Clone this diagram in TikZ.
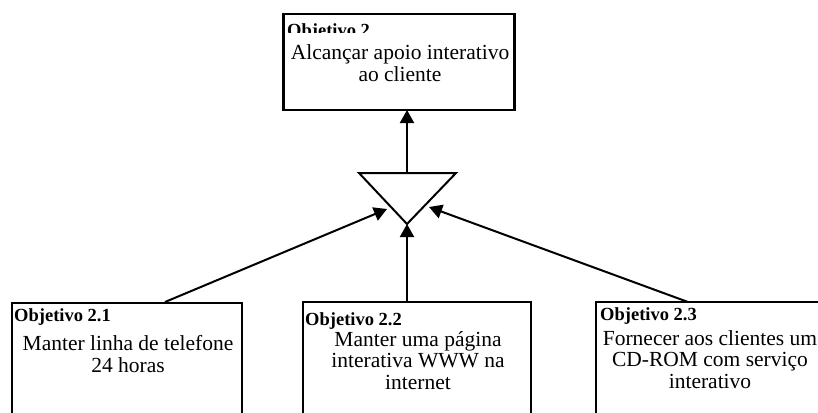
\documentclass[tikz,border=0pt]{standalone}
\usepackage{fontspec}
\setmainfont{Liberation Serif}
\usetikzlibrary{arrows.meta,calc}

\begin{document}
\begin{tikzpicture}[x=1pt,y=-1pt,
  goalbox/.style={draw,line width=2.2pt,inner sep=0pt},
  tag/.style={font=\fontsize{18.5}{18.5}\selectfont\bfseries,anchor=base west,inner sep=0pt},
  body/.style={font=\fontsize{21.5}{21.5}\selectfont,align=center,anchor=base,inner sep=0pt},
  link/.style={line width=2pt,-{Triangle[length=13pt,width=14pt]}}]

% page frame
\clip (0,0) rectangle (818,412);
\useasboundingbox (0,0) rectangle (818,412);
\fill[white] (0,0) rectangle (818,412);

% top goal (body text anchored on its last baseline)
\node[goalbox,minimum width=231pt,minimum height=96pt] (g2) at (399,62) {};
\begin{scope}
  \clip (284,15) rectangle (515,33);
  \node[tag] (g2tag) at (287,37) {Objetivo 2};
\end{scope}
\node[body] (g2txt) at (400,81) {Alcançar apoio interativo\\ao cliente};

% sub-goals
\node[goalbox,minimum width=230pt,minimum height=120pt] (g21) at (127,363) {};
\node[tag] (g21tag) at (14,321) {Objetivo 2.1};
\node[body] (g21txt) at (128,372) {Manter linha de telefone\\24 horas};

\node[goalbox,minimum width=228pt,minimum height=120pt] (g22) at (417,362) {};
\node[tag] (g22tag) at (305,325) {Objetivo 2.2};
\node[body] (g22txt) at (418,389) {Manter uma página\\interativa WWW na\\internet};

\node[goalbox,minimum width=228pt,minimum height=120pt] (g23) at (710,362) {};
\node[tag] (g23tag) at (600,320) {Objetivo 2.3};
\node[body] (g23txt) at (710,388) {Fornecer aos clientes um\\CD-ROM com serviço\\interativo};

% AND triangle
\coordinate (tl) at (359,173);
\coordinate (tr) at (456,173);
\coordinate (apex) at (407,224);
\coordinate (ttop) at (407,173);
\draw[line width=2pt,line join=miter] (tl) -- (tr) -- (apex) -- cycle;

% connectors
\coordinate (g2in) at (407,110);
\coordinate (lin) at (387,209);
\coordinate (rin) at (429,207);
\coordinate (g21out) at (165,302);
\coordinate (g22out) at (407,302);
\coordinate (g23out) at (688,302);
\draw[link] (ttop) -- (g2in);
\draw[link] (g21out) -- (lin);
\draw[link] (g22out) -- (apex);
\draw[link] (g23out) -- (rin);
\end{tikzpicture}
\end{document}
